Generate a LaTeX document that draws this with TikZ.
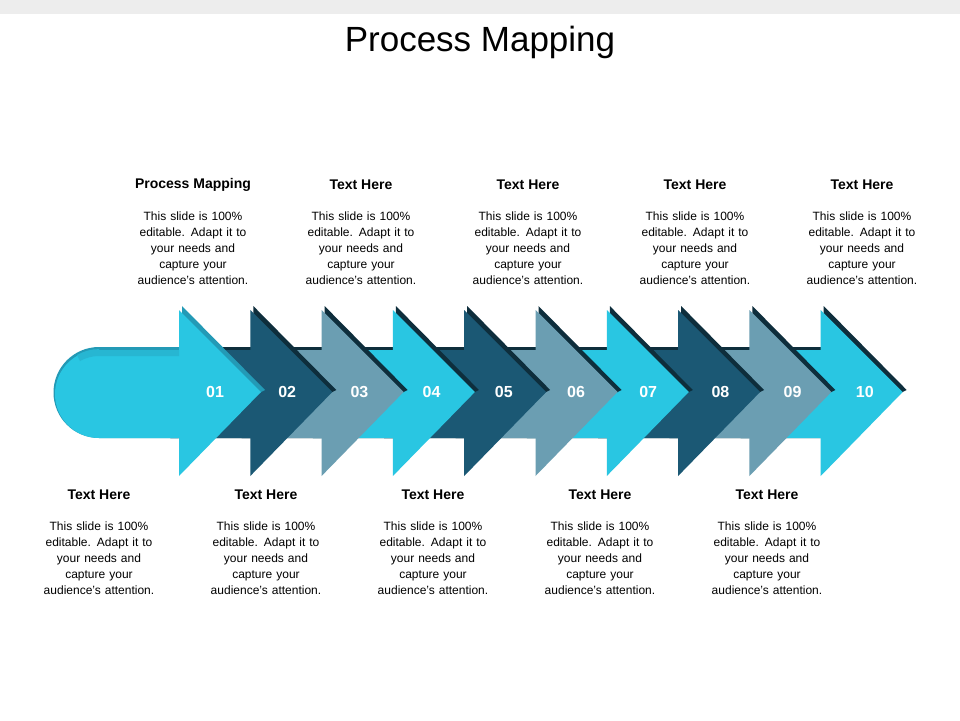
\documentclass[tikz,border=0pt]{standalone}
\usepackage{fontspec}
\setmainfont{Liberation Sans}
\begin{document}
\begin{tikzpicture}[x=1pt,y=-1pt,
  hd/.style={font=\bfseries\fontsize{14}{16}\selectfont, anchor=center},
  bd/.style={font=\fontsize{12}{16}\selectfont, align=center, anchor=north, text width=130pt},
  num/.style={font=\bfseries\fontsize{16}{18}\selectfont, text=white}]
\definecolor{cy}{HTML}{29C6E2}
\definecolor{dk}{HTML}{1B5874}
\definecolor{gr}{HTML}{6B9EB2}
\definecolor{sh}{HTML}{0E2E3C}
\useasboundingbox (0,0) rectangle (960,720);
\fill[white] (0,0) rectangle (960,720);
\fill[black!7] (0,0) rectangle (960,14);
\node[font=\fontsize{35}{40}\selectfont] (title) at (480,42) {Process Mapping};
% arrows drawn from 10 down to 1
\foreach \i/\c in {10/cy,9/gr,8/dk,7/cy,6/gr,5/dk,4/cy,3/gr,2/dk}{
  \pgfmathsetmacro\hx{179+71.3*(\i-1)}
  \pgfmathsetmacro\px{\hx-80}
  \fill[sh] (\px+3,347) -- (\hx+3,347) -- (\hx+3,306) -- (\hx+86,390) -- (\hx+82,392) -- (\hx,438) -- (\px,438) -- cycle;
  \fill[\c] (\px,350) -- (\hx,350) -- (\hx,310) -- (\hx+82,392) -- (\hx,476) -- (\hx,438) -- (\px,438) -- cycle;
}
\fill[cy!60!dk] (99,347) -- (182,347) -- (182,306) -- (265,390) -- (261,392) -- (178,438) -- (99,438) arc[start angle=90,end angle=270,radius=45.5] -- cycle;
\fill[cy] (99,350) -- (179,350) -- (179,310) -- (261,392) -- (179,476) -- (179,438) -- (99,438) arc[start angle=90,end angle=270,radius=44] -- cycle;
\fill[cy!85!dk] (99,350) -- (179,350) -- (179,356) -- (99,356) arc[start angle=270,end angle=240,radius=38] -- (77,355) arc[start angle=240,end angle=270,radius=44] -- cycle;
\foreach \i/\t in {1/01,2/02,3/03,4/04,5/05,6/06,7/07,8/08,9/09,10/10}{
  \node[num] (n\i) at ({215+72.2*(\i-1)},392) {\t};
}
\def\body{This slide is 100\%\\editable. Adapt it to\\your needs and\\capture your\\audience's attention.}
\node[hd] (th1) at (193,185) {Process Mapping};
\node[bd] (tb1) at (193,208) {\body};
\foreach \k/\x in {2/361,3/528,4/695,5/862}{
  \node[hd] (th\k) at (\x,185) {Text Here};
  \node[bd] (tb\k) at (\x,208) {\body};
}
\foreach \k/\x in {1/99,2/266,3/433,4/600,5/767}{
  \node[hd] (bh\k) at (\x,495) {Text Here};
  \node[bd] (bb\k) at (\x,518) {\body};
}
\end{tikzpicture}
\end{document}
